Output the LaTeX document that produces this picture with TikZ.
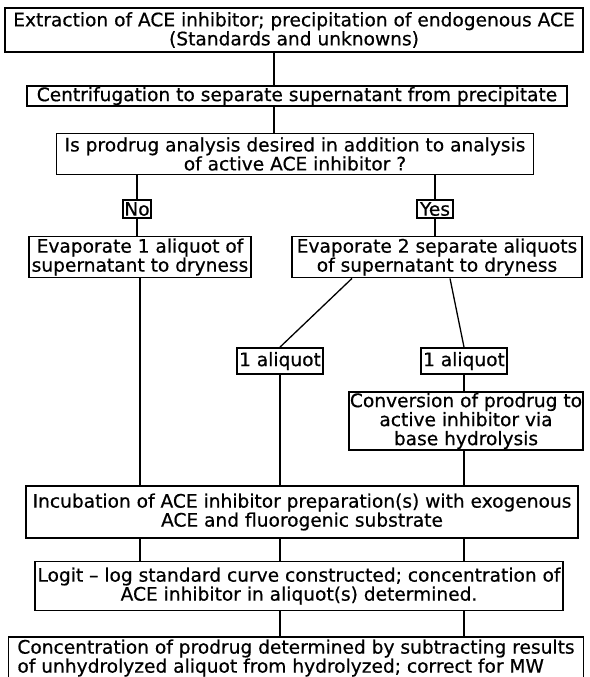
\documentclass[tikz,border=0pt]{standalone}
\usepackage{fontspec}
\setmainfont{DejaVu Sans}
\newfontfamily\boxfont[FakeBold=0.6]{DejaVu Sans}

\begin{document}
\begin{tikzpicture}[x=1pt,y=-1pt,
    box/.style={draw, line width=1.8pt, align=center, inner sep=1pt,
      font=\boxfont\fontsize{18.6}{19}\selectfont},
    tag/.style={box, minimum height=18pt},
    link/.style={line width=1.3pt}]
  \useasboundingbox (0,0) rectangle (589,677);

  % Kaesten oben
  \node[box, minimum width=578pt, minimum height=44pt] (extract) at (294,30)
    {Extraction of ACE inhibitor; precipitation of endogenous ACE\\(Standards and unknowns)};
  \node[box, minimum width=540pt, minimum height=20pt] (centri) at (297,96)
    {Centrifugation to separate supernatant from precipitate};
  \node[box, minimum width=477pt, minimum height=41pt] (question) at (295,154)
    {Is prodrug analysis desired in addition to analysis\\of active ACE inhibitor ?};

  % Entscheidung
  \node[tag, minimum width=27pt] (no) at (137,209) {No};
  \node[tag, minimum width=36pt] (yes) at (435,209) {Yes};

  % Eindampfen
  \node[box, minimum width=222pt, minimum height=41pt] (evapone) at (140,257)
    {Evaporate 1 aliquot of\\supernatant to dryness};
  \node[box, minimum width=290pt, minimum height=41pt] (evaptwo) at (437,257)
    {Evaporate 2 separate aliquots\\of supernatant to dryness};
  \node[tag, minimum width=86pt, minimum height=26pt] (alqa) at (280,361) {1 aliquot};
  \node[tag, minimum width=86pt, minimum height=26pt] (alqb) at (464,361) {1 aliquot};
  \node[box, minimum width=234pt, minimum height=53pt] (convert) at (466,421)
    {Conversion of prodrug to\\active inhibitor via\\base hydrolysis};

  % Kaesten unten
  \node[box, minimum width=552pt, minimum height=52pt] (incub) at (302,512)
    {Incubation of ACE inhibitor preparation(s) with exogenous\\ACE and fluorogenic substrate};
  \node[box, minimum width=528pt, minimum height=49pt] (logit) at (299,586)
    {Logit – log standard curve constructed; concentration of\\ACE inhibitor in aliquot(s) determined.};
  \node[box, align=left, minimum width=575pt, minimum height=42pt] (final) at (296,658)
    {Concentration of prodrug determined by subtracting results\\ of unhydrolyzed aliquot from hydrolyzed; correct for MW};

  % Verbindungen
  \coordinate (spine) at (274,0);
  \draw[link] (extract.south -| spine) -- (centri.north -| spine);
  \draw[link] (centri.south -| spine) -- (question.north -| spine);
  \draw[link] (question.south -| no) -- (no.north);
  \draw[link] (question.south -| yes) -- (yes.north);
  \draw[link] (no.south) -- (evapone.north -| no);
  \draw[link] (yes.south) -- (evaptwo.north -| yes);
  \draw[link] ([xshift=-85pt]evaptwo.south) -- (alqa.north);
  \draw[link] ([xshift=13pt]evaptwo.south) -- (alqb.north);
  \draw[link] (alqb.south) -- (convert.north -| alqb);
  \draw[link] (evapone.south) -- (incub.north -| evapone);
  \draw[link] (alqa.south) -- (incub.north -| alqa);
  \draw[link] (convert.south -| alqb) -- (incub.north -| alqb);

  \foreach \col in {evapone,alqa,alqb}
    \draw[link] (incub.south -| \col) -- (logit.north -| \col);
  \foreach \col in {alqa,alqb}
    \draw[link] (logit.south -| \col) -- (final.north -| \col);
\end{tikzpicture}
\end{document}
